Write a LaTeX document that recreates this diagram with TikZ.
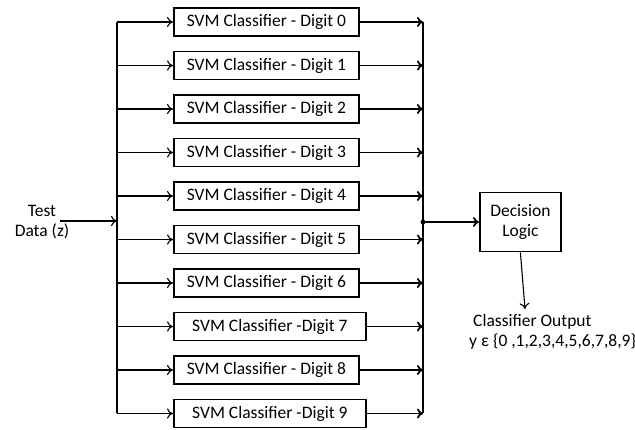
\documentclass[tikz,border=0pt]{standalone}
\usepackage{fontspec}
\setmainfont{Carlito}
\usetikzlibrary{arrows.meta}
\begin{document}
\begin{tikzpicture}[x=1pt,y=1pt,
  svm/.style={draw,line width=1.8pt,minimum height=28pt,anchor=west,inner sep=0pt,font=\fontsize{17.5}{19}\selectfont},
  conn/.style={line width=1.1pt,-{To[length=6pt,width=10pt]}},
  outc/.style={line width=1.8pt,-{To[length=6pt,width=10pt]}},
  lbl/.style={font=\fontsize{17.5}{20.5}\selectfont,align=center}]
\useasboundingbox (0,0) rectangle (635,430);
\foreach \i/\t/\w in {0/ - Digit 0/185,1/ - Digit 1/185,2/ - Digit 2/185,3/ - Digit 3/185,4/ - Digit 4/185,5/ - Digit 5/185,6/ - Digit 6/185,7/ -Digit 7/192,8/ - Digit 8/185,9/ -Digit 9/192}{
  \pgfmathsetmacro{\yy}{430-22-43.5*\i}
  \node[svm,minimum width=\w pt] (b\i) at (173,\yy) {SVM Classifier\t};
  \coordinate (l\i) at (117,\yy);
  \coordinate (r\i) at (423,\yy);
  \draw[conn] (l\i) -- (b\i.west);
  \draw[outc] (b\i.east) -- (r\i);
}
\draw[line width=1.1pt] (l0) -- (l9);
\draw[line width=1.8pt] (r0) -- (r9);
\node[lbl] (test) at (42,208) {Test\\Data (z)};
\coordinate (tin) at (60,209);
\coordinate (tout) at (117,209);
\draw[conn] (tin) -- (tout);
\coordinate (dot) at (423,208);
\fill (dot) circle (2.4pt);
\node[draw,line width=1.8pt,minimum width=81pt,minimum height=59pt,lbl,anchor=west] (dec) at (479,208) {Decision\\Logic};
\draw[outc] (dot) -- (dec.west);
\node[lbl,align=left,anchor=north west,inner sep=0pt] (out) at (469,116) {\hspace*{4pt}Classifier Output\\y ε \{0 ,1,2,3,4,5,6,7,8,9\}};
\coordinate (outtop) at (525,121);
\draw[conn] (dec.south) -- (outtop);
\end{tikzpicture}
\end{document}
